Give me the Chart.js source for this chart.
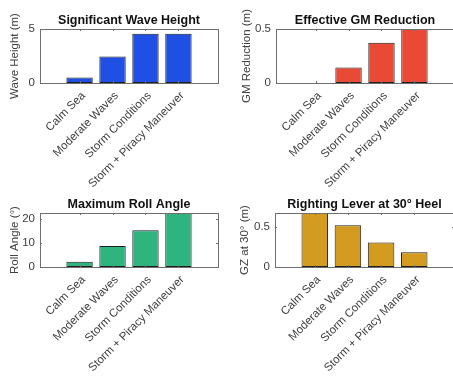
<!DOCTYPE html>
<html>
<head>
<meta charset="utf-8">
<script src="https://cdn.jsdelivr.net/npm/chart.js@4.4.0/dist/chart.umd.min.js"></script>
<style>
	html, body { margin: 0; padding: 0; background: #fff; overflow: hidden; }
	#fig { position: relative; width: 453px; height: 377px; overflow: hidden; }
	#fig canvas { position: absolute; }
</style>
</head>
<body>
<div id="fig">
	<canvas id="wave" width="226" height="190" style="left:0;top:0"></canvas>
	<canvas id="gm" width="240" height="190" style="left:226px;top:0"></canvas>
	<canvas id="roll" width="226" height="187" style="left:0;top:190px"></canvas>
	<canvas id="gz" width="240" height="187" style="left:226px;top:190px"></canvas>
</div>
<script>
// Data
const categories = ['Calm Sea', 'Moderate Waves', 'Storm Conditions', 'Storm + Piracy Maneuver'];
const waveHeight = [0.5, 2.45, 4.55, 4.55];
const gmReduction = [0, 0.143, 0.372, 0.5];
const rollAngle = [2.2, 8.8, 15.3, 22.5];
const gzAt30 = [0.68, 0.525, 0.31, 0.185];

const waveTicks = [0, 5];
const gmTicks = [0, 0.5];
const rollTicks = [0, 10, 20];
const gzTicks = [0, 0.5];

const FONT = "'Liberation Sans', Arial, Helvetica, sans-serif";
const TEXT = '#404040';
const AXIS = '#6e6e6e';

// Box round the plot area + small inward ticks (matlab style)
const axesBox = {
	id: 'axesBox',
	afterDatasetsDraw(chart) {
		const { ctx, chartArea: a, scales } = chart;
		ctx.save();
		ctx.strokeStyle = AXIS;
		ctx.lineWidth = 1;
		ctx.strokeRect(Math.round(a.left) + 0.5, Math.round(a.top) + 0.5,
			Math.round(a.right - a.left), Math.round(a.bottom - a.top));
		ctx.beginPath();
		scales.x.ticks.forEach(t => {
			const x = Math.round(scales.x.getPixelForValue(t.value)) + 0.5;
			ctx.moveTo(x, a.bottom); ctx.lineTo(x, a.bottom - 2);
			ctx.moveTo(x, a.top); ctx.lineTo(x, a.top + 2);
		});
		scales.y.ticks.forEach(t => {
			const y = Math.round(scales.y.getPixelForValue(t.value)) + 0.5;
			ctx.moveTo(a.left, y); ctx.lineTo(a.left + 2, y);
			ctx.moveTo(a.right, y); ctx.lineTo(a.right - 2, y);
		});
		ctx.stroke();
		ctx.restore();
	}
};

function makePanel(id, o) {
	new Chart(document.getElementById(id), {
		type: 'bar',
		data: {
			datasets: [{
				data: o.values.map((v, i) => ({ x: i + 1, y: v })),
				backgroundColor: o.color,
				borderColor: '#1e1e1e',
				borderWidth: 1,
				borderSkipped: false,
				barPercentage: 0.8,
				categoryPercentage: 1
			}]
		},
		options: {
			responsive: false,
			animation: false,
			layout: { padding: { left: o.padLeft, right: o.padRight, top: 0, bottom: 0 } },
			plugins: {
				legend: { display: false },
				tooltip: { enabled: false },
				title: {
					display: true,
					text: o.title,
					fullSize: false,
					color: '#111',
					font: { family: FONT, size: 12.5, weight: 'bold', lineHeight: 1.2 },
					padding: { top: o.titleTop, bottom: o.plotTop - o.titleTop - 15 }
				}
			},
			scales: {
				x: {
					type: 'linear',
					position: 'bottom',
					min: -0.2,
					max: 5.2,
					offset: false,
					grid: { display: false, drawTicks: false },
					border: { display: false },
					afterBuildTicks: s => { s.ticks = categories.map((c, i) => ({ value: i + 1 })); },
					afterFit: s => { s.height = o.xAxisH; s.paddingLeft = 0; s.paddingRight = 0; },
					ticks: {
						autoSkip: false,
						minRotation: 45,
						maxRotation: 45,
						padding: 6,
						labelOffset: 4,
						color: TEXT,
						font: { family: FONT, size: 11.5 },
						callback: v => categories[v - 1] || ''
					}
				},
				y: {
					type: 'linear',
					min: 0,
					max: o.yMax,
					grid: { display: false, drawTicks: false },
					border: { display: false },
					afterBuildTicks: s => { s.ticks = o.yTicks.map(v => ({ value: v })); },
					afterFit: s => { s.width = o.axisW; s.paddingTop = 0; s.paddingBottom = 0; },
					ticks: {
						padding: 5,
						color: TEXT,
						font: { family: FONT, size: 11.5 },
						callback: v => String(v)
					},
					title: {
						display: true,
						text: o.yLabel,
						color: TEXT,
						padding: 0,
						font: { family: FONT, size: 11.5 }
					}
				}
			}
		},
		plugins: [axesBox]
	});
}

makePanel('wave', {
	values: waveHeight, color: '#1f4fe3', title: 'Significant Wave Height', yLabel: 'Wave Height (m)',
	yMax: 5, yTicks: waveTicks, padLeft: 8, axisW: 32, padRight: 8, titleTop: 13.5, plotTop: 29, xAxisH: 107
});
makePanel('gm', {
	values: gmReduction, color: '#e84a35', title: 'Effective GM Reduction', yLabel: 'GM Reduction (m)',
	yMax: 0.5, yTicks: gmTicks, padLeft: 14, axisW: 36, padRight: 12, titleTop: 13.5, plotTop: 29, xAxisH: 107
});
makePanel('roll', {
	values: rollAngle, color: '#2fb37f', title: 'Maximum Roll Angle', yLabel: 'Roll Angle (°)',
	yMax: 22.5, yTicks: rollTicks, padLeft: 8, axisW: 32, padRight: 8, titleTop: 7.5, plotTop: 23, xAxisH: 110
});
makePanel('gz', {
	values: gzAt30, color: '#d39b1f', title: 'Righting Lever at 30° Heel', yLabel: 'GZ at 30° (m)',
	yMax: 0.68, yTicks: gzTicks, padLeft: 12, axisW: 37, padRight: 12, titleTop: 7.5, plotTop: 23, xAxisH: 110
});
</script>
</body>
</html>
